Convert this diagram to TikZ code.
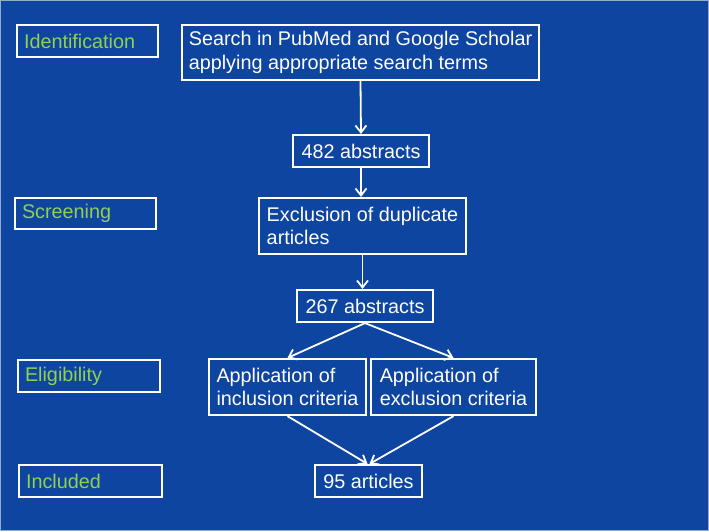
\documentclass[tikz,border=0pt]{standalone}
\usepackage{fontspec}
\setmainfont{Liberation Sans}
\usetikzlibrary{arrows.meta}
\definecolor{bgblue}{RGB}{14,69,160}
\definecolor{stagegreen}{RGB}{146,208,80}
\definecolor{edgegray}{RGB}{150,170,205}
\begin{document}
\begin{tikzpicture}[x=1pt,y=-1pt,
  box/.style={draw=white, line width=2.2pt, text=white, inner xsep=0pt, inner ysep=2pt,
    align=left, font=\fontsize{19.8}{23.5}\selectfont},
  stage/.style={box, text=stagegreen, inner xsep=7pt},
  conn/.style={draw=white, line width=1.8pt, -{Straight Barb[length=7pt,width=11pt,line width=1.8pt]}}]
\fill[bgblue] (0,0) rectangle (709,531);
\draw[edgegray, line width=1pt] (0.5,0.5) rectangle (708.5,530.5);
\useasboundingbox (0,0) rectangle (709,531);
% stage labels
\node[stage, text width=127pt, minimum height=32pt] (ident) at (87.5,41) {Identification};
\node[stage, text width=127pt, minimum height=31pt] (screen) at (85.5,213.5) {Screening};
\node[stage, text width=128pt, minimum height=32pt] (elig) at (89,376) {Eligibility};
\node[stage, text width=129pt, minimum height=32pt] (incl) at (90.5,481) {Included};
% flow boxes
\node[box, minimum width=357pt, minimum height=55pt] (search) at (360.5,52.5) {Search in PubMed and Google Scholar\\applying appropriate search terms};
\node[box, minimum width=136pt, minimum height=32pt] (a482) at (361,151) {482 abstracts};
\node[box, minimum width=207pt, minimum height=56pt] (dup) at (362.5,226) {Exclusion of duplicate\\articles};
\node[box, minimum width=136pt, minimum height=32pt] (a267) at (365,306) {267 abstracts};
\node[box, minimum width=157pt, minimum height=56pt] (inc) at (287.5,387) {Application of\\inclusion criteria};
\node[box, minimum width=165pt, minimum height=56pt] (exc) at (453.5,387) {Application of\\exclusion criteria};
\node[box, minimum width=107pt, minimum height=32pt] (a95) at (368.5,481) {95 articles};
% connectors
\draw[conn] (search.south) -- (a482.north);
\draw[conn] (a482.south) -- (a482.south |- dup.north);
\draw[conn] (dup.south) -- (dup.south |- a267.north);
\draw[conn] (a267.south) -- (inc.north);
\draw[conn] (a267.south) -- (exc.north);
\draw[conn] (inc.south) -- ([xshift=-1pt]a95.north);
\draw[conn] (exc.south) -- ([xshift=1pt]a95.north);
\end{tikzpicture}
\end{document}
